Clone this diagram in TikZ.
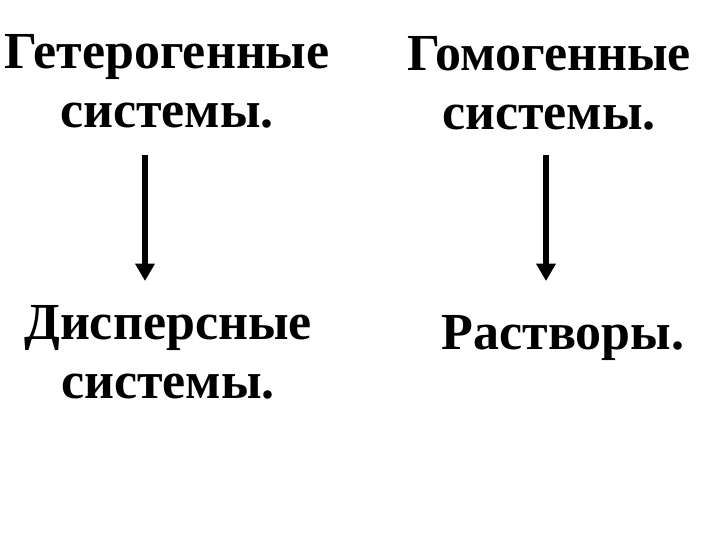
\documentclass[tikz,border=0pt]{standalone}
\usepackage{fontspec}
\setmainfont{Liberation Serif}
\usetikzlibrary{arrows.meta}

\tikzset{
  label text/.style={anchor=base,inner sep=0.75pt,align=center,
    font=\bfseries\fontsize{39}{44}\selectfont},
  down arrow/.style={line width=4.5pt,
    -{Triangle[width=14pt,length=13pt]}}
}

\begin{document}
\begin{tikzpicture}[x=0.75pt,y=0.75pt,yscale=-1,xscale=1]
\useasboundingbox (0,0) rectangle (720,540);

% Text Node
\node [label text] (het) at (167,127) {Гетерогенные\\системы.};
% Text Node
\node [label text] (hom) at (549,129) {Гомогенные\\системы.};
% Text Node
\node [label text] (disp) at (168,398) {Дисперсные\\системы.};
% Text Node
\node [label text] (rast) at (563,349) {Растворы.};

% Arrows
\coordinate (het end) at (145,155);
\coordinate (disp end) at (145,281);
\coordinate (hom end) at (546,155);
\coordinate (rast end) at (546,281);
\draw [down arrow] (het end) -- (disp end);
\draw [down arrow] (hom end) -- (rast end);

\end{tikzpicture}
\end{document}
